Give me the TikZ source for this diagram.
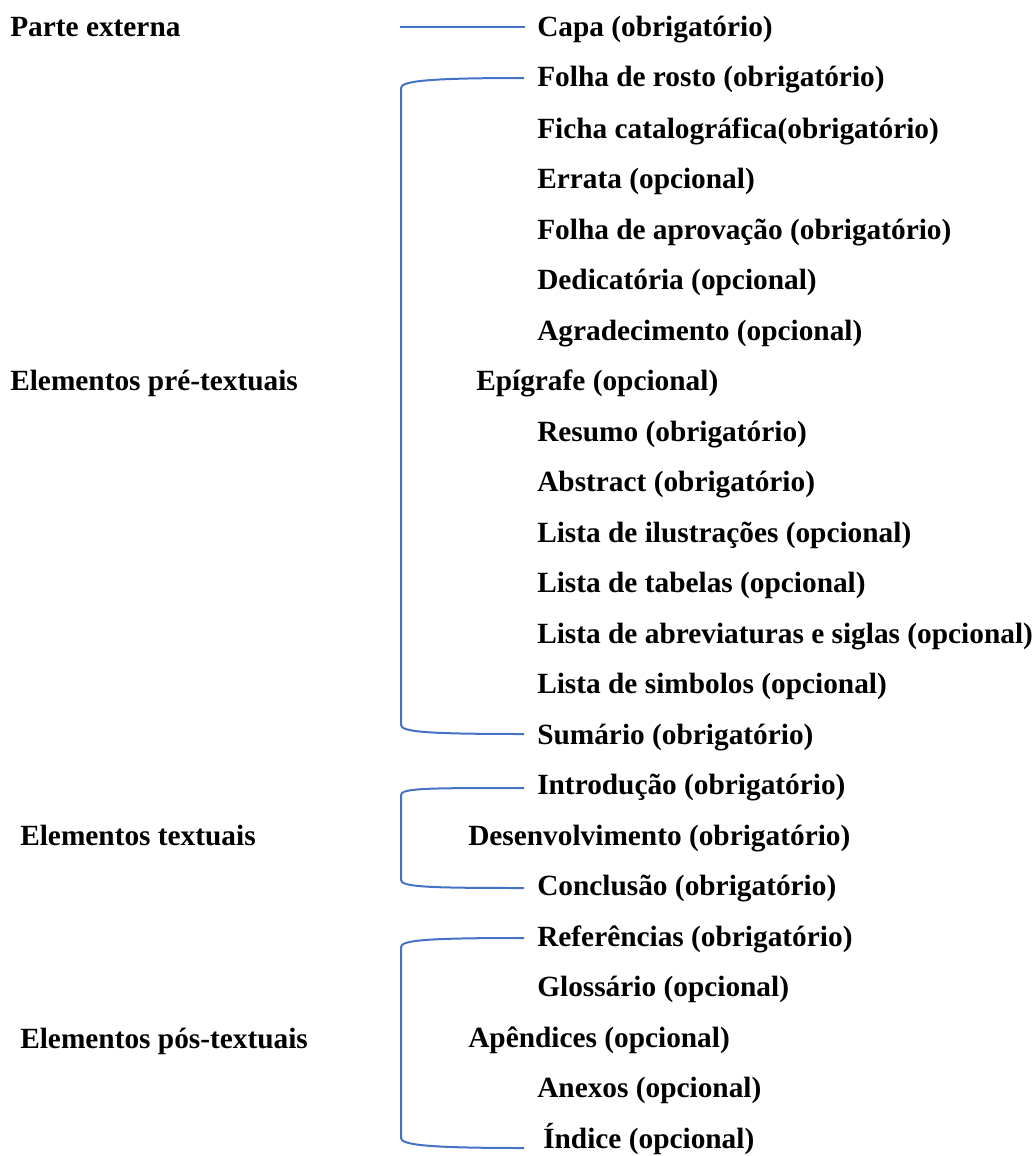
\documentclass[tikz,border=0pt]{standalone}
\usepackage{fontspec}
\setmainfont{Liberation Serif}
\definecolor{linecolor}{RGB}{68,114,196}
\usetikzlibrary{positioning}
\tikzset{
	item/.style={
		anchor=base west,
		inner sep=0pt,
		font=\bfseries\fontsize{22}{26}\selectfont
	},
	brace/.style={
		draw=linecolor,
		line width=1.5pt
	},
}

\begin{document}
\begin{tikzpicture}[x=0.75pt,y=-0.75pt]
	\useasboundingbox (0,0) rectangle (1034,1156);
	% left column
	\node[item] (externa) at (10,37) {Parte externa};
	\node[item] (pre) at (10,390) {Elementos pré-textuais};
	\node[item] (textuais) at (20,845) {Elementos textuais};
	\node[item] (pos) at (20,1048) {Elementos pós-textuais};
	% right column
	\node[item] (capa) at (537,37) {Capa (obrigatório)};
	\node[item] (rosto) at (537,86) {Folha de rosto (obrigatório)};
	\node[item] (ficha) at (537,138) {Ficha catalográfica(obrigatório)};
	\node[item] (errata) at (537,188) {Errata (opcional)};
	\node[item] (aprov) at (537,239) {Folha de aprovação (obrigatório)};
	\node[item] (dedic) at (537,289) {Dedicatória (opcional)};
	\node[item] (agrad) at (537,340) {Agradecimento (opcional)};
	\node[item] (epig) at (476,390) {Epígrafe (opcional)};
	\node[item] (resumo) at (537,441) {Resumo (obrigatório)};
	\node[item] (abstract) at (537,491) {Abstract (obrigatório)};
	\node[item] (ilus) at (537,542) {Lista de ilustrações (opcional)};
	\node[item] (tabelas) at (537,592) {Lista de tabelas (opcional)};
	\node[item] (abrev) at (537,643) {Lista de abreviaturas e siglas (opcional)};
	\node[item] (simb) at (537,693) {Lista de simbolos (opcional)};
	\node[item] (sumario) at (537,744) {Sumário (obrigatório)};
	\node[item] (intro) at (537,794) {Introdução (obrigatório)};
	\node[item] (desenv) at (468,845) {Desenvolvimento (obrigatório)};
	\node[item] (concl) at (537,895) {Conclusão (obrigatório)};
	\node[item] (ref) at (537,946) {Referências (obrigatório)};
	\node[item] (gloss) at (537,996) {Glossário (opcional)};
	\node[item] (apend) at (468,1047) {Apêndices (opcional)};
	\node[item] (anexos) at (537,1097) {Anexos (opcional)};
	\node[item] (indice) at (543,1148) {Índice (opcional)};
	% connectors
	\coordinate (capaend) at ([shift={(-12,-10)}]capa.base west);
	\draw[brace] (capaend) -- ++(-125,0);
	\draw[brace] ([shift={(-13,-8)}]rosto.base west)
		.. controls ++(-95,0) and ++(0,-7) .. ++(-123,10)
		-- ([shift={(-136,-19)}]sumario.base west)
		.. controls ++(0,7) and ++(-95,0) .. ([shift={(-13,-10)}]sumario.base west);
	\draw[brace] ([shift={(-13,-6)}]intro.base west)
		.. controls ++(-95,0) and ++(0,-7) .. ++(-123,7)
		-- ([shift={(-136,-15)}]concl.base west)
		.. controls ++(0,7) and ++(-95,0) .. ([shift={(-13,-7)}]concl.base west);
	\draw[brace] ([shift={(-13,-8)}]ref.base west)
		.. controls ++(-95,0) and ++(0,-7) .. ++(-123,9)
		-- ([shift={(-142,-10)}]indice.base west)
		.. controls ++(0,7) and ++(-95,0) .. ([shift={(-19,0)}]indice.base west);
\end{tikzpicture}
\end{document}
